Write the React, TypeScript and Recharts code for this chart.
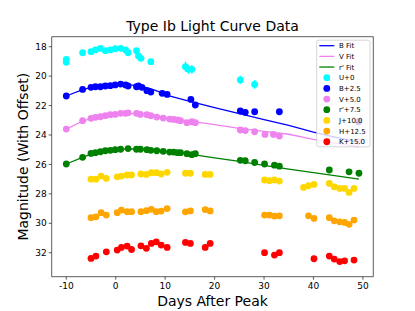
import React from 'react';
import { ScatterChart, Scatter, XAxis, YAxis, ReferenceArea, ErrorBar } from 'recharts';

const FONT = 'DejaVu Sans, sans-serif';

// Fit curves
const fitDays = [-10, -6.7, -5, -3, -1, 1, 3, 5, 7, 9, 11, 15, 20, 25, 30, 35, 40, 45, 49.2];
const bFitMags = [21.35, 20.92, 20.78, 20.68, 20.62, 20.58, 20.6, 20.68, 20.85, 21.08, 21.36, 21.72, 22.14, 22.55, 22.95, 23.35, 23.8, 24.2, 24.5];
const vFitMags = [23.6, 23.05, 22.88, 22.74, 22.64, 22.56, 22.53, 22.56, 22.64, 22.75, 22.86, 23.06, 23.3, 23.55, 23.75, 23.95, 24.3, 24.58, 24.8];
const rFitMags = [25.97, 25.52, 25.3, 25.15, 25.05, 24.98, 24.95, 24.97, 25.02, 25.08, 25.14, 25.3, 25.55, 25.8, 26.07, 26.32, 26.55, 26.8, 27.0];

// U+0
const uDays = [-10, -10, -6.7, -5.0, -4.1, -3.1, -2.1, -1.1, -0.1, 1.0, 2.0, 2.5, 4.2, 4.6, 5.1, 7.1, 14.1, 14.7, 15.4, 25.2, 28.1];
const uMags = [18.86, 19.06, 18.41, 18.34, 18.22, 18.11, 18.27, 18.22, 18.14, 18.11, 18.22, 18.41, 18.27, 18.63, 18.79, 19.02, 19.36, 19.54, 19.54, 20.26, 20.56];
const uErrs = [0.05, 0.05, 0.05, 0.05, 0.05, 0.05, 0.05, 0.05, 0.05, 0.05, 0.05, 0.05, 0.05, 0.05, 0.05, 0.05, 0.35, 0.3, 0.3, 0.28, 0.3];

// B+2.5
const bDays = [-10, -6.7, -5.0, -4.1, -3.1, -2.1, -1.1, -0.1, 1.0, 2.0, 2.5, 4.2, 4.6, 5.3, 6.3, 7.1, 9.4, 10.4, 15.2, 16.1, 25.2, 26.2, 28.1, 33.1, 49.1];
const bMags = [21.35, 20.9, 20.76, 20.72, 20.72, 20.67, 20.65, 20.6, 20.54, 20.6, 20.67, 20.72, 20.67, 20.76, 20.99, 21.08, 21.17, 21.24, 21.58, 21.96, 22.37, 22.46, 22.42, 22.42, 23.1];

// V+5.0
const vDays = [-10, -6.7, -5.0, -4.1, -3.1, -2.1, -1.1, -0.1, 1.0, 2.0, 2.5, 4.2, 5.0, 6.3, 7.1, 8.3, 9.6, 10.9, 11.7, 12.5, 13.1, 14.4, 15.4, 16.1, 25.2, 26.2, 28.1, 30.2, 31.9, 33.1, 49.2];
const vMags = [23.6, 23.03, 22.87, 22.8, 22.76, 22.69, 22.62, 22.6, 22.53, 22.53, 22.49, 22.53, 22.6, 22.62, 22.69, 22.78, 22.85, 22.92, 22.94, 22.98, 23.03, 23.16, 23.1, 23.16, 23.66, 23.7, 23.78, 23.96, 23.96, 24.07, 24.45];

// r'+7.5
const rDays = [-10, -6.7, -5.0, -4.1, -3.1, -2.1, -1.1, -0.1, 1.0, 2.5, 4.2, 5.0, 6.3, 7.1, 8.3, 9.6, 10.9, 11.7, 12.5, 13.1, 14.4, 15.4, 16.1, 25.2, 26.2, 28.1, 30.1, 32.1, 33.1, 43.2, 47.2, 49.2];
const rMags = [25.97, 25.52, 25.25, 25.2, 25.14, 25.07, 25.04, 25.0, 24.97, 24.92, 24.97, 24.97, 25.0, 25.04, 25.07, 25.11, 25.16, 25.16, 25.2, 25.2, 25.27, 25.34, 25.27, 25.72, 25.75, 25.87, 25.97, 26.05, 26.12, 26.38, 26.5, 26.6];

// J+10.0
const jDays = [-5.0, -4.0, -2.95, -1.9, 0.3, 1.15, 2.3, 3.2, 5.1, 6.2, 7.2, 8.2, 9.2, 10.4, 14.1, 15.1, 18.1, 19.1, 30.1, 31.1, 32.1, 33.1, 38.0, 39.0, 40.1, 43.2, 44.2, 45.3, 46.3, 47.2, 48.2];
const jMags = [27.0, 27.0, 26.79, 26.95, 26.84, 26.79, 26.72, 26.72, 26.65, 26.68, 26.56, 26.56, 26.65, 26.54, 26.6, 26.6, 26.68, 26.68, 27.06, 27.11, 27.06, 27.13, 27.56, 27.45, 27.36, 27.29, 27.52, 27.63, 27.63, 27.9, 27.63];

// H+12.5
const hDays = [-5.0, -4.0, -2.95, -1.9, 0.3, 1.15, 2.3, 3.2, 5.1, 6.2, 7.2, 8.2, 9.2, 10.4, 14.1, 15.1, 18.1, 19.1, 30.1, 31.1, 32.1, 33.1, 39.0, 40.1, 43.2, 44.2, 45.3, 46.3, 47.2, 48.2];
const hMags = [29.62, 29.56, 29.28, 29.44, 29.28, 29.1, 29.21, 29.21, 29.21, 29.14, 29.05, 29.21, 29.17, 29.0, 29.22, 29.16, 29.07, 29.16, 29.44, 29.44, 29.51, 29.49, 29.49, 29.67, 29.62, 29.83, 29.9, 29.94, 30.07, 29.78];

// K+15.0
const kDays = [-5.0, -4.0, -1.9, 0.3, 1.15, 2.3, 3.2, 5.1, 6.2, 7.2, 8.2, 9.2, 10.4, 14.1, 15.1, 18.1, 19.1, 30.1, 32.1, 33.1, 40.1, 43.2, 44.2, 45.3, 46.3, 48.2];
const kMags = [32.39, 32.23, 31.94, 31.82, 31.64, 31.55, 31.78, 31.53, 31.7, 31.37, 31.26, 31.48, 31.64, 31.3, 31.37, 31.64, 31.37, 32.0, 32.16, 32.0, 32.41, 32.23, 32.43, 32.6, 32.55, 32.5];

const xTicks = [-10, 0, 10, 20, 30, 40, 50];
const yTicks = [18, 20, 22, 24, 26, 28, 30, 32];

const X_DOMAIN: [number, number] = [-12.95, 52.1];
const Y_DOMAIN: [number, number] = [17.32, 33.63];

const toPts = (days: number[], mags: number[], errs?: number[]) =>
  days.map((d, i) => ({ day: d, mag: mags[i], err: errs ? errs[i] : 0 }));

const bands = [
  { name: 'U+0', color: '#00ffff', pts: toPts(uDays, uMags, uErrs), err: true },
  { name: 'B+2.5', color: '#0000ff', pts: toPts(bDays, bMags) },
  { name: 'V+5.0', color: '#ee82ee', pts: toPts(vDays, vMags) },
  { name: "r'+7.5", color: '#008000', pts: toPts(rDays, rMags) },
  { name: 'J+10.0', color: '#ffd700', pts: toPts(jDays, jMags) },
  { name: 'H+12.5', color: '#ffa500', pts: toPts(hDays, hMags) },
  { name: 'K+15.0', color: '#ff0000', pts: toPts(kDays, kMags) },
];

const fits = [
  { name: 'B Fit', color: '#0000ff', pts: toPts(fitDays, bFitMags) },
  { name: 'V Fit', color: '#ee82ee', pts: toPts(fitDays, vFitMags) },
  { name: "r' Fit", color: '#008000', pts: toPts(fitDays, rFitMags) },
];

const R = 3.4;

const dot = (color: string) => (p: any) =>
  <circle cx={p.cx} cy={p.cy} r={R} fill={color} stroke="none" />;

const none = () => <g />;

export default function App() {
  const legendRows = [
    ...fits.map((f) => ({ name: f.name, color: f.color, kind: 'line' })),
    ...bands.map((b) => ({ name: b.name, color: b.color, kind: 'dot' })),
  ];
  const rowStart = 45.7;
  const rowStep = 10.67;
  return (
    <div style={{ position: 'absolute', left: 0, top: 0, width: 415, height: 311, background: '#fff' }}>
      <ScatterChart
        width={415}
        height={311}
        margin={{ top: 36.7, right: 41.7, bottom: 0, left: 0 }}
      >
        <XAxis
          type="number"
          dataKey="day"
          domain={X_DOMAIN}
          ticks={xTicks}
          allowDataOverflow
          height={34.3}
          tickSize={3}
          tickMargin={3}
          axisLine={false}
          tickLine={{ stroke: '#333', strokeWidth: 0.8 }}
          tick={{ fontSize: 9, fill: '#000', fontFamily: FONT }}
        />
        <YAxis
          type="number"
          dataKey="mag"
          domain={Y_DOMAIN}
          ticks={yTicks}
          reversed
          allowDataOverflow
          width={51.7}
          tickSize={3}
          tickMargin={2}
          axisLine={false}
          tickLine={{ stroke: '#333', strokeWidth: 0.8 }}
          tick={{ fontSize: 9, fill: '#000', fontFamily: FONT }}
        />
        {fits.map((f) => (
          <Scatter
            key={f.name}
            name={f.name}
            data={f.pts}
            line={{ stroke: f.color, strokeWidth: 1.3 }}
            lineJointType="linear"
            shape={none}
            isAnimationActive={false}
          />
        ))}
        {bands.map((b) => (
          <Scatter
            key={b.name}
            name={b.name}
            data={b.pts}
            fill={b.color}
            shape={dot(b.color)}
            isAnimationActive={false}
          >
            {b.err ? (
              <ErrorBar dataKey="err" direction="y" stroke={b.color} strokeWidth={1.3} width={0} />
            ) : null}
          </Scatter>
        ))}
        <ReferenceArea
          x1={X_DOMAIN[0]}
          x2={X_DOMAIN[1]}
          y1={Y_DOMAIN[0]}
          y2={Y_DOMAIN[1]}
          fill="none"
          stroke="#333"
          strokeWidth={0.8}
          ifOverflow="visible"
        />
      </ScatterChart>
      <svg
        width={415}
        height={311}
        style={{ position: 'absolute', left: 0, top: 0, pointerEvents: 'none' }}
        fontFamily={FONT}
      >
        <text x={212.5} y={31} fontSize={14} textAnchor="middle" fill="#000">
          Type Ib Light Curve Data
        </text>
        <text x={212.5} y={306} fontSize={14} textAnchor="middle" fill="#000">
          Days After Peak
        </text>
        <text
          transform="translate(28,156.7) rotate(-90)"
          fontSize={14}
          textAnchor="middle"
          fill="#000"
        >
          Magnitude (With Offset)
        </text>
        <rect
          x={316.7}
          y={40.2}
          width={53.3}
          height={106.6}
          rx={2}
          fill="#fff"
          fillOpacity={0.8}
          stroke="#cccccc"
          strokeWidth={0.8}
        />
        {legendRows.map((r, i) => {
          const cy = rowStart + i * rowStep;
          return (
            <g key={r.name}>
              {r.kind === 'line' ? (
                <line x1={319.3} x2={334.3} y1={cy} y2={cy} stroke={r.color} strokeWidth={1.3} />
              ) : (
                <circle cx={326.8} cy={cy} r={R} fill={r.color} />
              )}
              <text x={339} y={cy + 2.5} fontSize={7} fill="#000">
                {r.name}
              </text>
            </g>
          );
        })}
      </svg>
    </div>
  );
}
